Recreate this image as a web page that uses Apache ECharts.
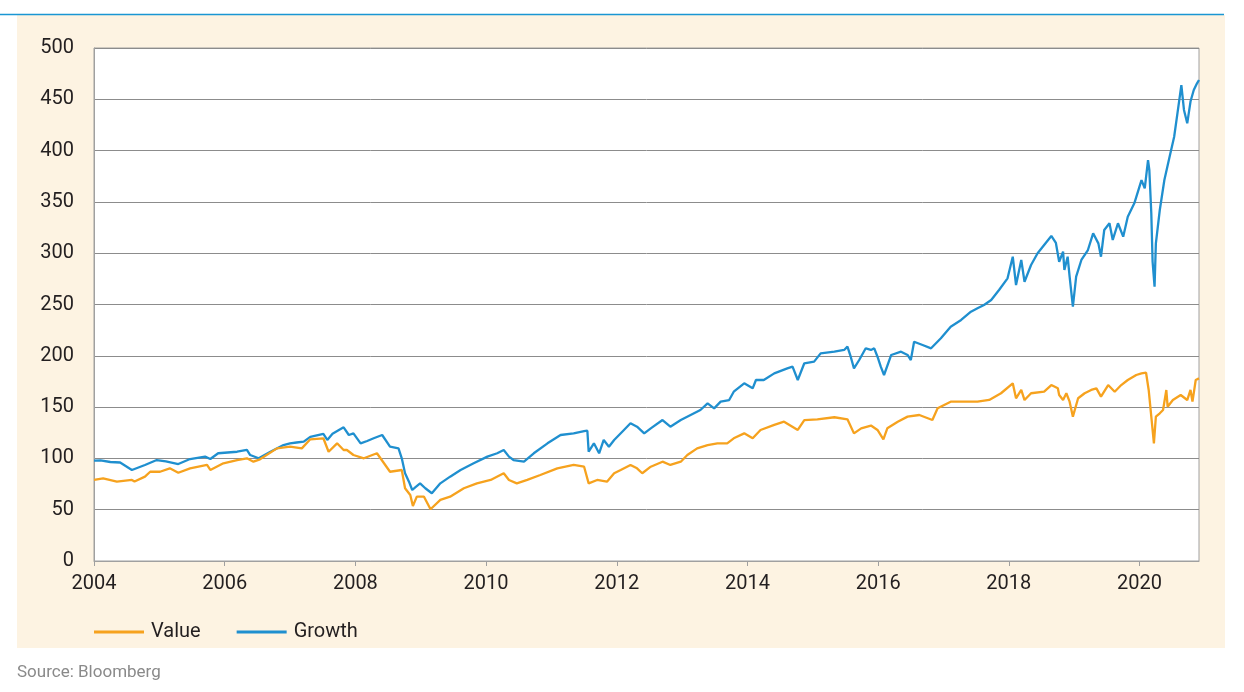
<!DOCTYPE html>
<html>
<head>
<meta charset="utf-8">
<script src="https://cdn.jsdelivr.net/npm/echarts@6/dist/echarts.min.js"></script>
<style>
html,body{margin:0;padding:0;background:#fff;}
#chart{width:1244px;height:692px;}
</style>
</head>
<body>
<div id="chart"></div>
<script>
// ---- data (decimal years / index values) ----
const xTicks = [2004, 2006, 2008, 2010, 2012, 2014, 2016, 2018, 2020];
const yTicks = [0, 50, 100, 150, 200, 250, 300, 350, 400, 450, 500];

const growthYears = [2004.00,2004.10,2004.25,2004.40,2004.58,2004.78,2004.96,2005.10,2005.29,2005.47,2005.70,2005.78,2005.90,2006.19,2006.34,2006.39,2006.52,2006.70,2006.90,2007.00,2007.10,2007.21,2007.31,2007.51,2007.57,2007.65,2007.82,2007.90,2007.97,2008.08,2008.18,2008.28,2008.41,2008.53,2008.66,2008.71,2008.76,2008.82,2008.87,2008.92,2008.99,2009.07,2009.17,2009.30,2009.45,2009.61,2009.81,2010.02,2010.17,2010.27,2010.35,2010.42,2010.58,2010.73,2010.94,2011.14,2011.34,2011.50,2011.55,2011.57,2011.65,2011.73,2011.80,2011.88,2011.96,2012.11,2012.21,2012.31,2012.42,2012.52,2012.70,2012.82,2012.98,2013.13,2013.28,2013.39,2013.49,2013.59,2013.72,2013.79,2013.95,2014.08,2014.13,2014.25,2014.41,2014.61,2014.69,2014.77,2014.87,2015.02,2015.12,2015.33,2015.48,2015.53,2015.58,2015.63,2015.71,2015.81,2015.89,2015.94,2015.99,2016.04,2016.09,2016.20,2016.35,2016.45,2016.50,2016.55,2016.68,2016.81,2016.96,2017.11,2017.27,2017.42,2017.52,2017.62,2017.73,2017.85,2017.98,2018.06,2018.11,2018.19,2018.24,2018.34,2018.44,2018.54,2018.65,2018.72,2018.77,2018.83,2018.85,2018.90,2018.93,2018.98,2019.03,2019.11,2019.21,2019.29,2019.37,2019.41,2019.46,2019.54,2019.59,2019.67,2019.75,2019.82,2019.92,2020.03,2020.08,2020.13,2020.15,2020.18,2020.20,2020.23,2020.25,2020.31,2020.38,2020.46,2020.53,2020.58,2020.64,2020.68,2020.73,2020.78,2020.83,2020.88,2020.91];
const growthValues = [97.8,98,96.5,96,88.7,93.6,98.4,97,94.5,99.4,101.7,99.4,105,106.5,108.2,103.3,100.1,106.5,113,114.7,115.5,116.3,121,123.8,118,124,130.3,122.8,124.4,114.7,117,119.6,122.8,111.4,109.8,100.1,85.5,77.3,69.2,72,75.7,70.9,66,75.7,82.2,88.7,95.2,101.7,105,108.2,101.7,98.4,96.8,105,114.7,122.8,124.4,126.5,127,106.5,114.7,105,118,111.4,118,127.7,134.2,130.9,124.4,129.3,137.4,130.9,137.4,142.3,147.2,153.7,148.8,155.3,156.9,165,173.2,168.3,176.4,176.4,182.9,187.8,189.4,176.4,192.7,194.3,202.4,204,205.7,208.9,199.1,187.8,195.9,207.3,205.7,207.3,199.1,189.4,181.3,200.8,204,200.8,195.9,213.7,210.5,207.3,217.1,228.4,234.9,243,246.3,249.5,254.4,264.1,275.5,296.6,269,293.4,272.2,288.5,299.9,308,316.8,310,291.7,301.5,283.6,296.6,277.1,247.9,277.1,293.4,303.1,319.4,309.6,296.6,322.6,329.2,312.9,329.2,316.1,335.6,348.6,371.3,363.2,390.8,381.1,338.9,291.7,267.4,309.6,342.1,371.3,394,413.5,436.3,463.7,439.6,426.6,447.8,459.1,465.6,468.8];

const valueYears = [2004.00,2004.14,2004.35,2004.58,2004.62,2004.78,2004.86,2005.01,2005.16,2005.29,2005.47,2005.73,2005.78,2005.98,2006.19,2006.34,2006.44,2006.54,2006.80,2007.00,2007.18,2007.31,2007.51,2007.59,2007.72,2007.82,2007.87,2007.97,2008.13,2008.33,2008.53,2008.71,2008.76,2008.84,2008.88,2008.94,2009.05,2009.15,2009.30,2009.45,2009.66,2009.86,2010.07,2010.27,2010.35,2010.47,2010.63,2010.83,2011.09,2011.34,2011.50,2011.57,2011.70,2011.85,2011.96,2012.06,2012.21,2012.31,2012.39,2012.52,2012.70,2012.82,2012.98,2013.08,2013.23,2013.39,2013.54,2013.69,2013.79,2013.95,2014.08,2014.20,2014.41,2014.56,2014.77,2014.87,2015.07,2015.33,2015.53,2015.63,2015.74,2015.89,2015.99,2016.08,2016.14,2016.30,2016.45,2016.63,2016.83,2016.91,2017.11,2017.52,2017.70,2017.88,2018.06,2018.11,2018.19,2018.24,2018.34,2018.54,2018.65,2018.75,2018.77,2018.83,2018.88,2018.93,2018.98,2019.06,2019.16,2019.26,2019.34,2019.41,2019.52,2019.62,2019.72,2019.82,2019.95,2020.03,2020.10,2020.14,2020.18,2020.22,2020.25,2020.31,2020.36,2020.41,2020.43,2020.51,2020.63,2020.73,2020.78,2020.81,2020.86,2020.91];
const valueValues = [79,80.6,77.3,79,77.5,82.2,87,87,90.3,86,90.3,93.6,88.7,95.2,98.4,100.1,96.8,99.1,109.8,111.4,109.8,118.6,119.6,106.5,114.7,108.2,108.2,103.3,100.1,105,87,88.7,70.9,64.3,53.6,62.7,62.7,50.4,59.5,62.7,70.9,75.7,79,85.5,79,75.7,79,83.8,90.3,93.6,91.9,75.7,79,77.3,85.5,88.7,93.6,90.3,85.5,91.9,96.8,93.6,96.8,103.3,109.8,113,114.7,114.7,119.6,124.4,119.6,127.7,132.6,135.8,127.7,137.4,138.1,140.1,138.1,124.4,129.3,132,127.7,118.5,129.3,135.8,140.7,142.3,137.4,148.8,155.3,155.3,157,163.5,173.2,158.6,166.7,156.9,163.5,165,171.5,168.3,161.8,156.9,163.5,155.3,140.7,158.6,163.5,166.7,168.3,160.2,171.5,165,171.5,176.4,181.3,182.9,183.5,166.7,140.7,114.7,140.7,144,147.2,166.7,150.4,156.9,161.8,156.9,166.7,155.3,176.4,178];

const seriesNames = ['Value', 'Growth'];
const sourceText = 'Source: Bloomberg';

// ---- build ----
const zip = (xs, ys) => xs.map((x, i) => [x, ys[i]]);
const FONT = 'Roboto, "Noto Sans", sans-serif';
const chart = echarts.init(document.getElementById('chart'), null, {renderer: 'canvas'});
chart.setOption({
  animation: false,
  backgroundColor: '#ffffff',
  textStyle: {fontFamily: FONT},
  graphic: [
    {type: 'rect', z: -10, silent: true, shape: {x: 17, y: 15, width: 1208, height: 633}, style: {fill: '#fdf3e2'}},
    {type: 'line', z: -5, silent: true, shape: {x1: 0, y1: 14.5, x2: 1224, y2: 14.5}, style: {stroke: '#1a96d3', lineWidth: 1.5}},
    {type: 'text', left: 17, top: 664, silent: true, style: {text: sourceText, fill: '#8a8a8a', font: '17px ' + FONT}}
  ],
  grid: {left: 94, top: 48, right: 45, bottom: 131, show: true, backgroundColor: '#ffffff', borderColor: '#a0a0a0', borderWidth: 1, containLabel: false},
  legend: {
    left: 94, top: 622, padding: 0, itemWidth: 50, itemHeight: 3, itemGap: 36, icon: 'rect',
    textStyle: {fontSize: 20, color: '#231f20', fontFamily: FONT, padding: [0, 0, 0, 2]},
    data: seriesNames
  },
  xAxis: {
    type: 'value', min: xTicks[0], max: 2020.91, interval: 2,
    axisLine: {show: true, lineStyle: {color: '#a0a0a0', width: 1}},
    axisTick: {show: true, length: 5, lineStyle: {color: '#a0a0a0'}},
    splitLine: {show: false},
    axisLabel: {
      showMaxLabel: false, margin: 13, fontSize: 20, color: '#231f20', fontFamily: FONT,
      formatter: v => xTicks.includes(v) ? String(v) : ''
    }
  },
  yAxis: {
    type: 'value', min: yTicks[0], max: yTicks[yTicks.length - 1], interval: 50,
    axisLine: {show: true, lineStyle: {color: '#a0a0a0', width: 1}},
    axisTick: {show: false},
    splitLine: {show: true, lineStyle: {color: '#8c8c8c', width: 1}},
    axisLabel: {margin: 20, fontSize: 20, color: '#231f20', fontFamily: FONT}
  },
  series: [
    {name: seriesNames[0], type: 'line', data: zip(valueYears, valueValues), showSymbol: false, symbol: 'none',
     itemStyle: {color: '#f6a21e'}, lineStyle: {color: '#f6a21e', width: 2.3}, z: 3},
    {name: seriesNames[1], type: 'line', data: zip(growthYears, growthValues), showSymbol: false, symbol: 'none',
     itemStyle: {color: '#1f8fcf'}, lineStyle: {color: '#1f8fcf', width: 2.3}, z: 2}
  ]
});
</script>
</body>
</html>
